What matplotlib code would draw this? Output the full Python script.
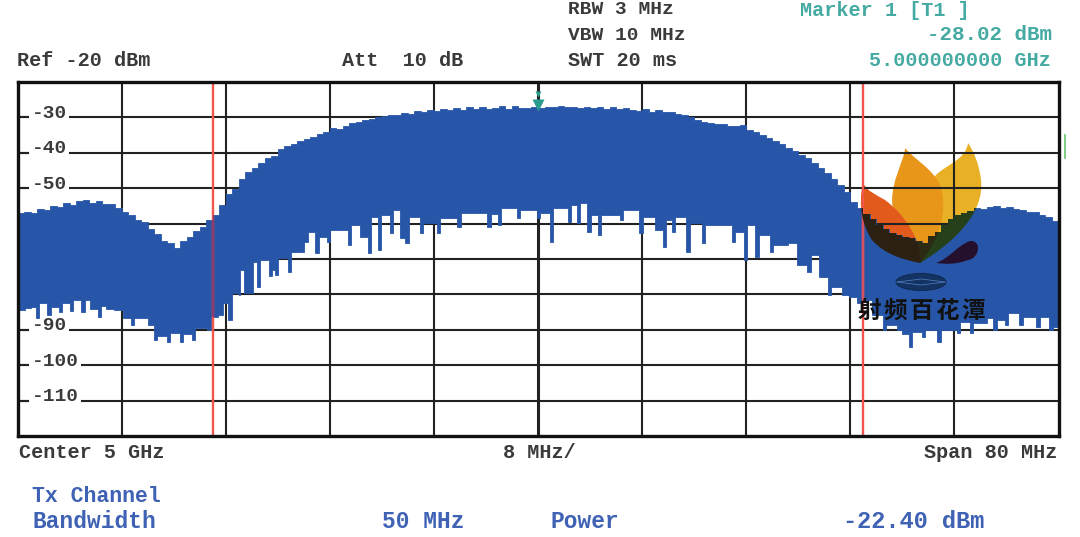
import numpy as np
import matplotlib
matplotlib.use("Agg")
import matplotlib.pyplot as plt
from matplotlib.path import Path
from matplotlib.patches import PathPatch, Ellipse
from matplotlib.transforms import Affine2D
from matplotlib.lines import Line2D

W, H = 1080, 537

# верхняя огибающая, дБм, шаг 0.5 МГц от -40 до +40
upper_dbm = [
    -57.0,-56.6,-56.9,-55.8,-56.2,-55.0,-55.4,-54.2,-54.8,-53.7,
    -53.4,-54.2,-53.7,-54.5,-54.6,-55.6,-56.7,-57.5,-59.0,-59.6,
    -61.5,-63.0,-65.0,-65.5,-67.0,-64.8,-63.8,-62.0,-61.0,-59.0,
    -57.5,-54.7,-51.5,-50.3,-47.5,-45.5,-44.2,-43.0,-41.5,-41.0,
    -39.0,-38.2,-37.4,-36.8,-36.0,-35.6,-34.6,-34.1,-33.0,-33.2,
    -32.3,-31.6,-31.4,-30.7,-30.5,-29.9,-29.7,-29.2,-29.4,-28.7,
    -28.9,-28.3,-28.6,-27.8,-28.3,-27.6,-28.0,-27.3,-27.9,-27.2,
    -27.7,-27.0,-27.6,-27.3,-26.9,-27.5,-26.8,-27.3,-27.4,-27.0,
    -27.4,-27.1,-27.2,-26.9,-27.2,-27.0,-27.3,-27.0,-27.4,-27.2,
    -27.6,-27.0,-27.7,-27.3,-27.9,-28.1,-27.5,-28.4,-28.0,-28.6,
    -28.4,-29.0,-29.3,-29.9,-30.6,-31.4,-31.6,-32.0,-32.0,-32.3,
    -32.3,-32.2,-33.6,-34.2,-35.0,-35.8,-36.8,-37.5,-38.6,-39.6,
    -40.6,-41.6,-43.0,-44.3,-45.6,-47.5,-49.0,-51.0,-54.0,-55.5,
    -57.2,-58.8,-60.5,-61.5,-62.7,-63.2,-63.8,-64.0,-65.0,-65.4,
    -63.5,-62.5,-60.5,-58.8,-57.5,-57.0,-56.3,-55.6,-55.9,-55.2,
    -55.0,-55.6,-55.3,-56.0,-56.2,-56.8,-56.6,-57.5,-58.0,-59.4,
    -60.5,
]

# нижняя огибающая: (МГц от центра, дБм)
lower_env = [
    (-40.0,-84.4),(-39.4,-83.8),(-39.0,-83.6),(-38.6,-86.7),(-38.1,-82.4),(-37.7,-85.8),
    (-37.2,-83.6),(-36.8,-85.0),(-36.3,-82.4),(-36.0,-84.7),(-35.7,-81.6),(-35.1,-85.0),
    (-34.8,-81.6),(-34.4,-84.1),(-33.8,-86.4),(-33.6,-83.3),(-33.2,-84.1),(-32.6,-84.4),
    (-31.9,-86.7),(-31.3,-88.6),(-30.7,-86.7),(-30.0,-88.6),(-29.5,-92.9),(-29.0,-91.8),
    (-28.5,-93.5),(-28.0,-90.9),(-27.5,-93.5),(-27.0,-91.2),(-26.6,-92.9),(-26.2,-89.5),
    (-25.4,-90.1),(-24.9,-86.4),(-24.6,-85.8),(-24.2,-82.4),(-23.8,-87.2),(-23.5,-79.6),
    (-23.0,-80.2),(-22.9,-73.1),(-22.6,-79.6),(-22.3,-79.6),(-21.9,-70.9),(-21.6,-77.9),
    (-21.1,-70.3),(-20.7,-74.8),(-20.3,-73.1),(-20.2,-74.5),(-19.9,-69.7),(-19.2,-73.7),
    (-18.9,-68.0),(-18.0,-65.2),(-17.7,-62.4),(-17.1,-68.3),(-16.6,-63.8),(-16.2,-65.2),
    (-15.2,-61.8),(-14.6,-66.0),(-14.0,-60.4),(-13.7,-63.8),(-13.1,-68.3),(-12.7,-58.1),
    (-12.3,-67.5),(-11.7,-57.6),(-11.4,-62.7),(-10.8,-56.2),(-10.6,-64.1),(-10.2,-65.5),
    (-9.8,-58.1),(-9.1,-62.7),(-8.5,-59.8),(-7.8,-62.7),(-7.3,-58.4),(-6.2,-61.0),
    (-5.2,-57.0),(-3.9,-61.0),(-3.5,-57.3),(-3.1,-60.4),(-2.7,-55.6),(-1.6,-58.4),
    (-0.6,-56.2),(-0.1,-58.4),(0.3,-57.0),(0.9,-65.2),(1.7,-55.6),(2.3,-59.6),
    (2.7,-54.7),(3.0,-59.8),(3.6,-54.2),(3.8,-62.4),(4.1,-57.6),(4.6,-63.2),
    (5.1,-57.6),(6.3,-59.0),(7.3,-56.2),(7.8,-62.7),(8.4,-58.1),(9.0,-61.8),
    (9.6,-66.6),(10.0,-59.0),(10.3,-62.4),(10.9,-58.1),(11.4,-68.0),(11.7,-59.8),
    (12.6,-65.5),(13.2,-60.4),(13.8,-60.4),(14.9,-65.2),(15.5,-62.4),(15.8,-70.3),
    (16.3,-60.4),(16.7,-69.4),(17.3,-63.2),(17.8,-68.0),(18.6,-66.0),(19.2,-65.5),
    (19.9,-71.7),(20.7,-73.7),(21.0,-68.9),(21.6,-75.1),(22.3,-80.2),(22.8,-77.9),
    (23.4,-80.2),(23.9,-80.7),(24.5,-82.4),(24.9,-81.6),(25.7,-85.8),(26.5,-90.1),
    (27.0,-88.6),(27.6,-90.1),(28.0,-91.2),(28.5,-94.9),(29.0,-90.6),(29.5,-92.0),
    (30.1,-90.1),(30.7,-93.5),(31.2,-90.1),(32.2,-90.9),(32.8,-87.8),(33.2,-90.9),
    (33.7,-88.1),(34.5,-86.7),(35.0,-90.1),(35.5,-87.2),(35.9,-88.6),(36.5,-85.3),
    (37.0,-88.6),(37.8,-86.4),(38.3,-89.2),(38.8,-86.4),(39.3,-90.1),(39.9,-89.2),
    (40.0,-89.0),
]

y_labels = [-30, -40, -50, -90, -100, -110]
y_grid = list(range(-110, -20, 10))
x_grid = [-32, -24, -16, -8, 0, 8, 16, 24, 32]
channel_edges = [-25, 25]
marker_mhz = 0
marker_dbm = -28.02

BLUE = "#2756a8"
GRAY = "#3a3a3a"
TEAL = "#45aaa2"
TXT_BLUE = "#3f62b4"
MONO = "Liberation Mono"

fig = plt.figure(figsize=(W / 100, H / 100), dpi=100)
ax = fig.add_axes([17.5 / W, (H - 436) / H, 1041 / W, 354 / H])
ax.set_xlim(-40, 40)
ax.set_ylim(-120, -20)
ax.set_xticks([])
ax.set_yticks([])
for s in ax.spines.values():
    s.set_linewidth(2.4)
    s.set_color("#111111")
    s.set_zorder(8)

for v in y_grid:
    ax.axhline(v, color="#222222", lw=1.5, zorder=1)
for v in x_grid:
    ax.axvline(v, color="#222222", lw=2.2 if v == 0 else 1.5, zorder=1)

# подписи шкалы внутри поля, сетка под ними прерывается
for v in y_labels:
    ax.annotate(str(v), (-40, v), xytext=(10, 3), textcoords="offset points",
                fontsize=14, family=MONO, weight="bold", color=GRAY, va="center", ha="left",
                zorder=2, bbox=dict(fc="white", ec="none", pad=1.5))
    ax.plot([-40, -39.2], [v, v], color="#222222", lw=1.5, zorder=2.5)


def steps(x, y):
    return np.repeat(x, 2)[1:], np.repeat(y, 2)[:-1]


def spiky_steps(x, y, width=0.25):
    # провалы узкие, остальное ступеньками
    xs, ys = [], []
    for i in range(len(x) - 1):
        dip = i > 0 and y[i] < y[i - 1] and y[i] < y[i + 1]
        end = min(x[i] + width, x[i + 1]) if dip else x[i + 1]
        xs += [x[i], end]
        ys += [y[i], y[i]]
        if end < x[i + 1]:
            xs.append(end)
            ys.append(y[i + 1])
    xs.append(x[-1])
    ys.append(y[-1])
    return np.array(xs), np.array(ys)


# спектр: заливка между огибающими
upper_x, upper_y = steps(np.linspace(-40, 40, len(upper_dbm)), upper_dbm)
low = np.array(lower_env)
low_x, low_y = spiky_steps(low[:, 0], low[:, 1])
poly_x = np.concatenate([upper_x, low_x[::-1]])
poly_y = np.concatenate([upper_y, low_y[::-1]])
trace = ax.fill(poly_x, poly_y, color=BLUE, lw=0.6, zorder=3)[0]

ax.axvline(channel_edges[0], color="#f0564c", lw=1.7, zorder=4)
ax.axvline(channel_edges[1], color="#f0564c", lw=1.7, zorder=4)
dim = ax.axvline(channel_edges[0], color="#8f3a6e", lw=1.7, zorder=4.1)
dim.set_clip_path(trace.get_path(), trace.get_transform())
dim2 = ax.axvline(channel_edges[1], color="#d8505e", lw=1.7, zorder=4.1)
dim2.set_clip_path(trace.get_path(), trace.get_transform())

ax.plot([marker_mhz], [marker_dbm + 1.6], marker="v", ms=9, color="#2a9d8f", mec="none", zorder=6)
ax.plot([marker_mhz], [-23.5], marker="v", ms=5, color="#2a9d8f", mec="none", zorder=6)

# логотип, координаты в пикселях картинки
px = Affine2D().scale(1, -1).translate(0, H)
C, M = Path.CURVE4, Path.MOVETO
leaf_codes = [M] + [C] * 12

right_leaf = Path([(920, 263), (950, 245), (985, 215), (981, 180), (979, 163), (973, 150), (968, 143),
                   (966, 160), (945, 165), (935, 176), (920, 205), (920, 240), (920, 263)], leaf_codes)
mid_leaf = Path([(920, 263), (935, 245), (950, 215), (940, 185), (932, 168), (915, 160), (905, 148),
                 (905, 160), (888, 185), (893, 210), (900, 235), (915, 250), (920, 263)], leaf_codes)
left_leaf = Path([(920, 263), (922, 240), (905, 215), (885, 200), (875, 194), (868, 192), (863, 183),
                  (858, 205), (862, 225), (872, 240), (885, 255), (905, 260), (920, 263)], leaf_codes)
leaves = [(right_leaf, "#e8b024", "#25401a"), (mid_leaf, "#e8961a", "#2c2a12"), (left_leaf, "#e25a1c", "#2c2012")]
# светлые лепестки под сеткой, тёмная часть только поверх заливки
for path, col, dark in leaves:
    ax.add_patch(PathPatch(path, transform=px, fc=col, ec="none", zorder=0.5, clip_on=False))
for path, col, dark in leaves:
    p = PathPatch(path, transform=px, fc=dark, ec="none", zorder=5.1)
    ax.add_patch(p)
    p.set_clip_path(trace.get_path(), trace.get_transform())

drop = Path([(936, 263), (950, 258), (958, 245), (970, 241), (982, 240), (980, 258), (968, 260),
             (955, 265), (945, 264), (936, 263)], [M] + [C] * 9)
ax.add_patch(PathPatch(drop, transform=px, fc="#24102c", ec="none", zorder=5.2))
ax.add_patch(Ellipse((921, 282), 50, 17, transform=px, fc="#143262", ec="#0e2448", lw=0.6, zorder=5.2))
ax.add_line(Line2D([897, 921, 945], [282, 279, 282], transform=px, color="#4a78b8", lw=0.6, zorder=5.3))
ax.add_line(Line2D([897, 921, 945], [282, 285, 282], transform=px, color="#4a78b8", lw=0.6, zorder=5.3))
for i, ch in enumerate("射频百花潭"):
    ax.text(869 + i * 26, 311, ch, transform=px, fontsize=17, weight="bold", family="Noto Sans CJK SC",
            color="#111111", ha="center", va="center", zorder=7)

ax.add_line(Line2D([1065, 1065], [135, 158], transform=px, color="#6cc46c", lw=1.2, clip_on=False, zorder=3))


def label(x, y, s, color=GRAY, size=14.5, ha="left"):
    fig.text(x / W, 1 - y / H, s, color=color, fontsize=size, family=MONO, weight="bold", ha=ha, va="center")


label(17, 61, "Ref -20 dBm")
label(342, 61, "Att  10 dB")
label(568, 10, "RBW 3 MHz", size=14)
label(568, 35, "VBW 10 MHz", size=14)
label(568, 61, "SWT 20 ms", size=14.5)
label(800, 10, "Marker 1 [T1 ]", TEAL, size=14.5)
label(1052, 35, "-28.02 dBm", TEAL, size=15, ha="right")
label(1051, 61, "5.000000000 GHz", TEAL, ha="right")
label(19, 452, "Center 5 GHz")
label(503, 452, "8 MHz/")
label(1057, 452, "Span 80 MHz", ha="right")
label(32, 497, "Tx Channel", TXT_BLUE, size=15.5)
label(32, 522, "Bandwidth", TXT_BLUE, size=16.5)
label(382, 522, "50 MHz", TXT_BLUE, size=16.5)
label(551, 522, "Power", TXT_BLUE, size=16.5)
label(843, 522, "-22.40 dBm", TXT_BLUE, size=17)

fig.savefig("out.png", dpi=100)
